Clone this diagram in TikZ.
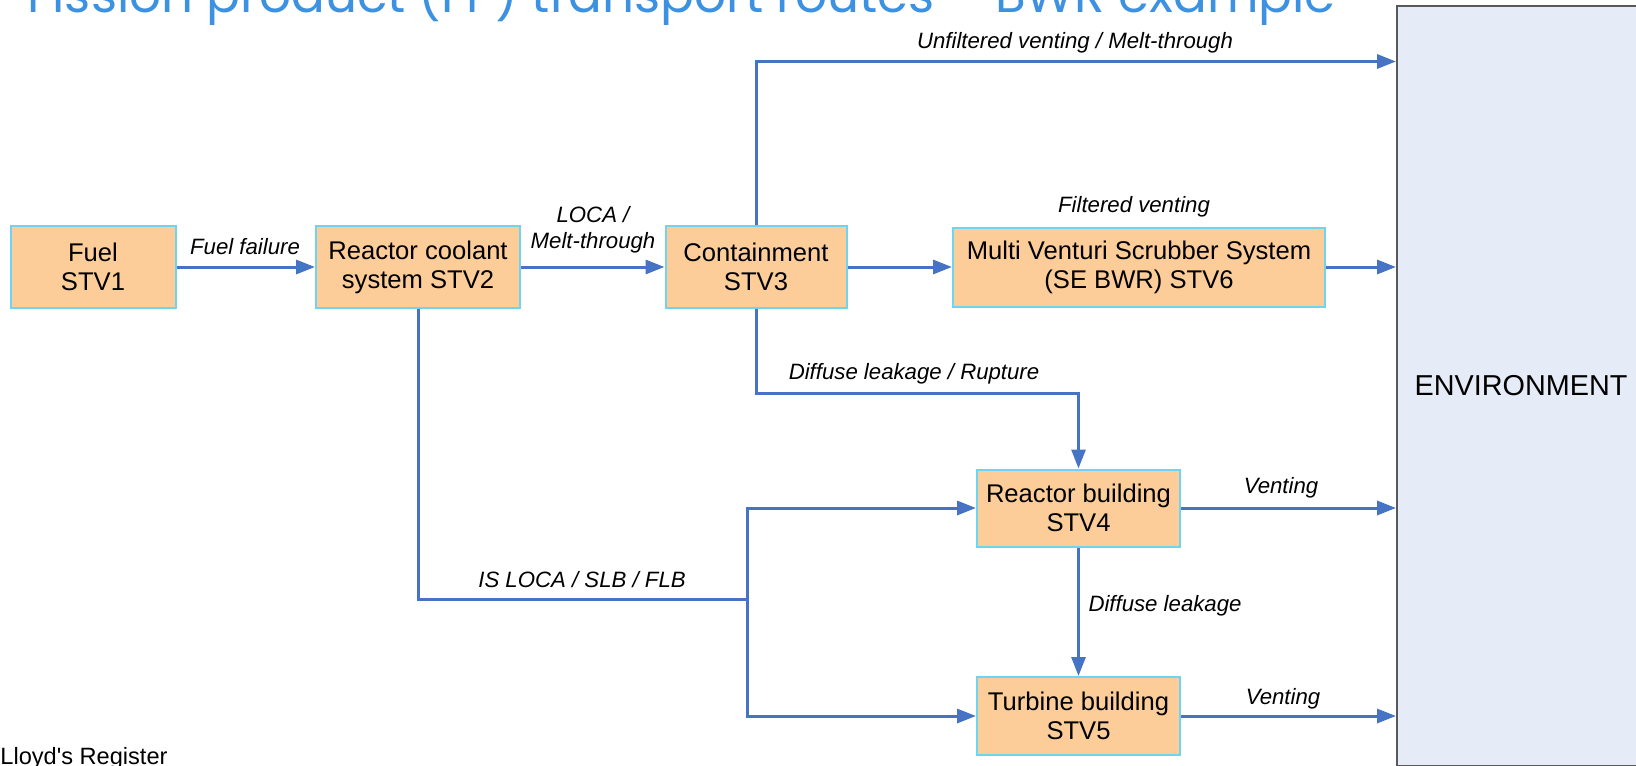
\documentclass[tikz,border=0pt]{standalone}
\usepackage{fontspec}
\setmainfont{Liberation Sans}
\newfontfamily\titlefont{Poppins}
\usetikzlibrary{arrows.meta, positioning}
\definecolor{boxorange}{RGB}{252,204,153}
\definecolor{boxedge}{RGB}{110,212,240}
\definecolor{flowblue}{RGB}{70,115,195}
\definecolor{envfill}{RGB}{230,236,247}
\definecolor{titleblue}{RGB}{60,145,225}

\begin{document}
\begin{tikzpicture}[x=0.5pt, y=-0.5pt,
    stv/.style={draw=boxedge, line width=1pt, fill=boxorange, align=center,
      font=\fontsize{12.8}{14.6}\selectfont, inner sep=0pt},
    flow/.style={draw=flowblue, line width=1.5pt, -{Triangle[length=9.5pt, width=7pt]}},
    route/.style={font=\fontsize{11.1}{13}\selectfont\itshape, align=center, inner sep=0pt}]
  \useasboundingbox (0,0) rectangle (1636,765);
  % slide title, cut off at the top
  \node[titleblue, font=\titlefont\fontsize{25}{30}\selectfont, anchor=base east, inner sep=0pt]
    (title) at (1336,13) {Fission product (FP) transport routes – BWR example};
  % environment
  \node[draw=gray!70!black, line width=1pt, fill=envfill, minimum width=124pt, minimum height=380pt,
    font=\fontsize{14.4}{17}\selectfont] (env) at (1521,386) {ENVIRONMENT};
  % barriers
  \node[stv, minimum width=82.5pt, minimum height=41pt] (fuel) at (93,267) {Fuel\\STV1};
  \node[stv, minimum width=102pt, minimum height=41pt] (rcs) at (418,267) {Reactor coolant\\system STV2};
  \node[stv, minimum width=90.5pt, minimum height=41pt] (cont) at (756,267) {Containment\\STV3};
  \node[stv, minimum width=186pt, minimum height=39.5pt] (mvss) at (1139,267) {Multi Venturi Scrubber System\\(SE BWR) STV6};
  \node[stv, minimum width=101.5pt, minimum height=38.5pt] (rb) at (1078.5,508) {Reactor building\\STV4};
  \node[stv, minimum width=101.5pt, minimum height=39pt] (tb) at (1078.5,716) {Turbine building\\STV5};
  % routes
  \coordinate (ufv) at (756,61.5);
  \coordinate (dlr) at (756,393);
  \coordinate (split) at (747,599);
  \draw[flow] (fuel) -- (rcs);
  \draw[flow] (rcs) -- (cont);
  \draw[flow] (cont) -- (mvss);
  \draw[flow] (mvss) -- (mvss -| env.west);
  \draw[flow] (cont.north) -- (ufv) -- (ufv -| env.west);
  \draw[flow] (cont.south) -- (dlr) -| (rb.north);
  \draw[flow, -] (rcs.south) |- (split);
  \draw[flow] (split) |- (rb.west);
  \draw[flow] (split) |- (tb.west);
  \draw[flow] (rb) -- (tb);
  \draw[flow] (rb) -- (rb -| env.west);
  \draw[flow] (tb) -- (tb -| env.west);
  % route labels
  \node[route] (ff) at (245,247) {Fuel failure};
  \node[route] (loca) at (593,230) {LOCA /\\Melt-through};
  \node[route] (unf) at (1075,43) {Unfiltered venting / Melt-through};
  \node[route] (filt) at (1134,207) {Filtered venting};
  \node[route] (rupt) at (914,374) {Diffuse leakage / Rupture};
  \node[route] (isloca) at (582,580) {IS LOCA / SLB / FLB};
  \node[route] (vent4) at (1281,488) {Venting};
  \node[route] (diff) at (1165,606) {Diffuse leakage};
  \node[route] (vent5) at (1283,699) {Venting};
  % footer
  \node[anchor=base west, font=\fontsize{11.8}{14}\selectfont, inner sep=0pt] (lr) at (0,764) {Lloyd\textquotesingle s Register};
\end{tikzpicture}
\end{document}
